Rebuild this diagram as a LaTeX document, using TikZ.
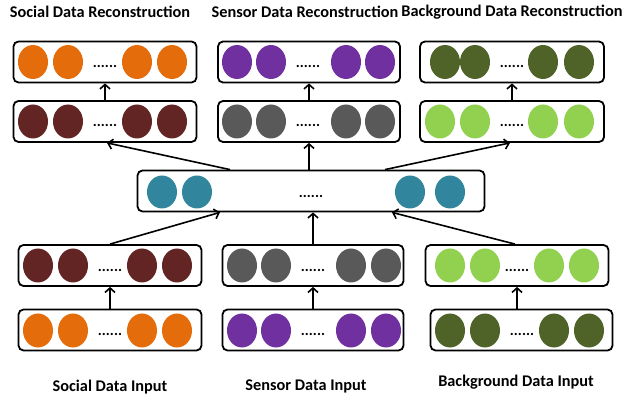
\documentclass[tikz,border=0pt]{standalone}
\usepackage{fontspec}
\setmainfont{Carlito}
\usetikzlibrary{arrows.meta,calc,shapes.geometric}
\definecolor{corange}{HTML}{E46C0A}
\definecolor{cmaroon}{HTML}{632523}
\definecolor{cpurple}{HTML}{7030A0}
\definecolor{cgray}{HTML}{595959}
\definecolor{colive}{HTML}{4F6228}
\definecolor{clgreen}{HTML}{92D050}
\definecolor{cteal}{HTML}{31859C}
\tikzset{
  layerbox/.style={draw=black, line width=1.8pt, rounded corners=5pt, inner sep=0pt, minimum height=41pt},
  unit/.style={ellipse, fill=#1, draw=none, minimum width=30pt, minimum height=34pt, inner sep=0pt},
  dotsl/.style={inner sep=0pt, font=\bfseries\fontsize{15}{17}\selectfont},
  lbl/.style={inner sep=0pt, font=\bfseries\fontsize{16.3}{18}\selectfont},
  arr/.style={line width=1.6pt, -{Straight Barb[length=4.5pt,width=10pt,line width=1.6pt]}},
}
\begin{document}
\begin{tikzpicture}[x=1pt,y=-1pt]
\useasboundingbox (0,0) rectangle (627,406);
% labels
\node[lbl] (t1) at (100,12) {Social Data Reconstruction};
\node[lbl] (t2) at (305,12) {Sensor Data Reconstruction};
\node[lbl] (t3) at (512,12) {Background Data Reconstruction};
\node[lbl] (s1) at (110,387) {Social Data Input};
\node[lbl] (s2) at (306,386) {Sensor Data Input};
\node[lbl] (s3) at (516,382) {Background Data Input};
% row A
\node[layerbox, minimum width=183pt] (a1) at (105,62) {};
\node[layerbox, minimum width=182pt] (a2) at (309,62) {};
\node[layerbox, minimum width=184pt] (a3) at (512,62) {};
% row B
\node[layerbox, minimum width=183pt] (b1) at (105,121.5) {};
\node[layerbox, minimum width=182pt] (b2) at (309,121.5) {};
\node[layerbox, minimum width=184pt] (b3) at (512,121.5) {};
% middle
\node[layerbox, minimum width=347pt] (m) at (311,191) {};
% row C
\node[layerbox, minimum width=183pt] (c1) at (110,265.5) {};
\node[layerbox, minimum width=181pt] (c2) at (313,265.5) {};
\node[layerbox, minimum width=183pt] (c3) at (517,265.5) {};
% row D
\node[layerbox, minimum width=183pt] (d1) at (110,330) {};
\node[layerbox, minimum width=181pt] (d2) at (313,330) {};
\node[layerbox, minimum width=182pt] (d3) at (521.5,330) {};
% units
\foreach \x [count=\i] in {33,68,137,172} \node[unit=corange] (a1u\i) at (\x,62) {};
\foreach \x [count=\i] in {237,271,346,380} \node[unit=cpurple] (a2u\i) at (\x,62) {};
\foreach \x [count=\i] in {445,475,543,579} \node[unit=colive] (a3u\i) at (\x,62) {};
\foreach \x [count=\i] in {33,68,137,172} \node[unit=cmaroon] (b1u\i) at (\x,121.5) {};
\foreach \x [count=\i] in {237,271,346,380} \node[unit=cgray] (b2u\i) at (\x,121.5) {};
\foreach \x [count=\i] in {440,475,543,579} \node[unit=clgreen] (b3u\i) at (\x,121.5) {};
\foreach \x [count=\i] in {162,197,410,450} \node[unit=cteal, minimum height=33pt] (mu\i) at (\x,192) {};
\foreach \x [count=\i] in {38,73,142,177} \node[unit=cmaroon] (c1u\i) at (\x,265.5) {};
\foreach \x [count=\i] in {242,276,351,386} \node[unit=cgray] (c2u\i) at (\x,265.5) {};
\foreach \x [count=\i] in {450,485,549,584} \node[unit=clgreen] (c3u\i) at (\x,265.5) {};
\foreach \x [count=\i] in {38,73,142,177} \node[unit=corange] (d1u\i) at (\x,330.5) {};
\foreach \x [count=\i] in {242,276,351,386} \node[unit=cpurple] (d2u\i) at (\x,330.5) {};
\foreach \x [count=\i] in {450,485,554,589} \node[unit=colive] (d3u\i) at (\x,330.5) {};
% dots
\node[dotsl] (a1d) at (105,66) {......};
\node[dotsl] (a2d) at (308,66) {......};
\node[dotsl] (a3d) at (512,66) {......};
\node[dotsl] (b1d) at (105,125) {......};
\node[dotsl] (b2d) at (308,125) {......};
\node[dotsl] (b3d) at (512,125) {......};
\node[dotsl] (md) at (311,196) {......};
\node[dotsl] (c1d) at (110,270) {......};
\node[dotsl] (c2d) at (313,270) {......};
\node[dotsl] (c3d) at (517,270) {......};
\node[dotsl] (d1d) at (110,334) {......};
\node[dotsl] (d2d) at (313,334) {......};
\node[dotsl] (d3d) at (522,334) {......};
% arrows
\draw[arr] (b1.north) -- (a1.south);
\draw[arr] (b2.north) -- (a2.south);
\draw[arr] (b3.north) -- (a3.south);
\draw[arr] ([xshift=-81pt]m.north) -- ([xshift=2pt]b1.south);
\draw[arr] (b2.south |- m.north) -- (b2.south);
\draw[arr] ([xshift=74pt]m.north) -- ([xshift=-2pt]b3.south);
\draw[arr] (c1.north) -- ([xshift=-91pt]m.south);
\draw[arr] (c2.north) -- (c2.north |- m.south);
\draw[arr] ([xshift=-2pt]c3.north) -- ([xshift=81pt]m.south);
\draw[arr] (d1.north) -- (c1.south);
\draw[arr] (d2.north) -- (c2.south);
\draw[arr] (c3.south |- d3.north) -- (c3.south);
\end{tikzpicture}
\end{document}
